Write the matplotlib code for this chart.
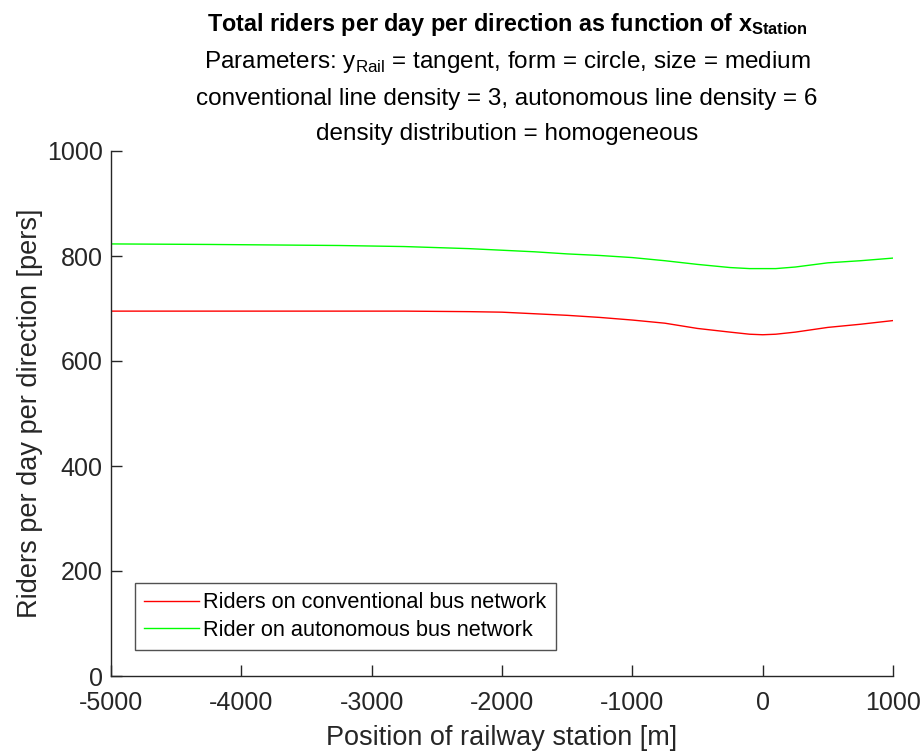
import numpy as np
import matplotlib
matplotlib.use("Agg")
import matplotlib.pyplot as plt

# ------------------------------------------------------------------
# Data
# ------------------------------------------------------------------
x_station = [-5000, -4250, -3250, -2750, -2250, -2000, -1750, -1500, -1250,
             -1000, -750, -500, -250, -100, 0, 100, 250, 500, 750, 1000]
riders_conventional = [695, 695, 695, 695, 694, 693, 690, 687, 683,
                       678, 672, 662, 655, 651, 650, 651, 655, 664, 670, 677]
riders_autonomous = [823, 822, 820, 818, 814, 811, 808, 804, 801,
                     797, 791, 784, 778, 776, 776, 776, 779, 787, 791, 796]

x_ticks = [-5000, -4000, -3000, -2000, -1000, 0, 1000]
y_ticks = [0, 200, 400, 600, 800, 1000]

plt.rcParams['font.family'] = ['Liberation Sans', 'DejaVu Sans']
plt.rcParams['mathtext.fontset'] = 'custom'
plt.rcParams['mathtext.rm'] = 'Liberation Sans'
plt.rcParams['mathtext.bf'] = 'Liberation Sans:bold'
plt.rcParams['axes.unicode_minus'] = False

axis_col = '#262626'

fig = plt.figure(figsize=(9.24, 7.51), dpi=100)
ax = fig.add_axes([111 / 924, 75 / 751, 782 / 924, 525 / 751])

ax.plot(x_station, riders_conventional, color='#ff0000', lw=1.0,
        label='Riders on conventional bus network')
ax.plot(x_station, riders_autonomous, color='#00ff00', lw=1.0,
        label='Rider on autonomous bus network')

ax.set_xlim(-5000, 1000)
ax.set_ylim(0, 1000)
ax.set_xticks(x_ticks)
ax.set_yticks(y_ticks)
ax.tick_params(direction='in', length=8, width=1, colors=axis_col, labelsize=18)
ax.tick_params(axis='x', pad=11)
ax.tick_params(axis='y', pad=6)
for s in ['top', 'right']:
    ax.spines[s].set_visible(False)
for s in ['left', 'bottom']:
    ax.spines[s].set_color(axis_col)
    ax.spines[s].set_linewidth(1.0)

ax.set_xlabel('Position of railway station [m]', fontsize=19.5, color=axis_col, labelpad=7)
ax.set_ylabel('Riders per day per direction [pers]', fontsize=19.5, color=axis_col, labelpad=2.5)

leg = ax.legend(loc='lower left', bbox_to_anchor=(0.031, 0.049), fontsize=15.7,
                frameon=True, fancybox=False, edgecolor=axis_col,
                handlelength=2.5, handletextpad=0.2, borderpad=0.42,
                labelspacing=0.31, borderaxespad=0)
leg.get_frame().set_linewidth(1.0)

cx = (111 + 893) / 2 / 924 + 5 / 924
fig.text(cx, 1 - 24 / 751, r'Total riders per day per direction as function of $\mathbf{x}_{\mathbf{Station}}$',
         ha='center', va='center', fontsize=16.8, fontweight='bold', color='black')
fig.text(cx, 1 - 62 / 751, r'Parameters: $\mathrm{y}_{\mathrm{Rail}}$ = tangent, form = circle, size = medium',
         ha='center', va='center', fontsize=17.5, color='black')
fig.text(cx, 1 - 99 / 751, 'conventional line density = 3, autonomous line density = 6',
         ha='center', va='center', fontsize=17.5, color='black')
fig.text(cx, 1 - 134 / 751, 'density distribution = homogeneous',
         ha='center', va='center', fontsize=17.5, color='black')

fig.savefig('out.png', dpi=100)
